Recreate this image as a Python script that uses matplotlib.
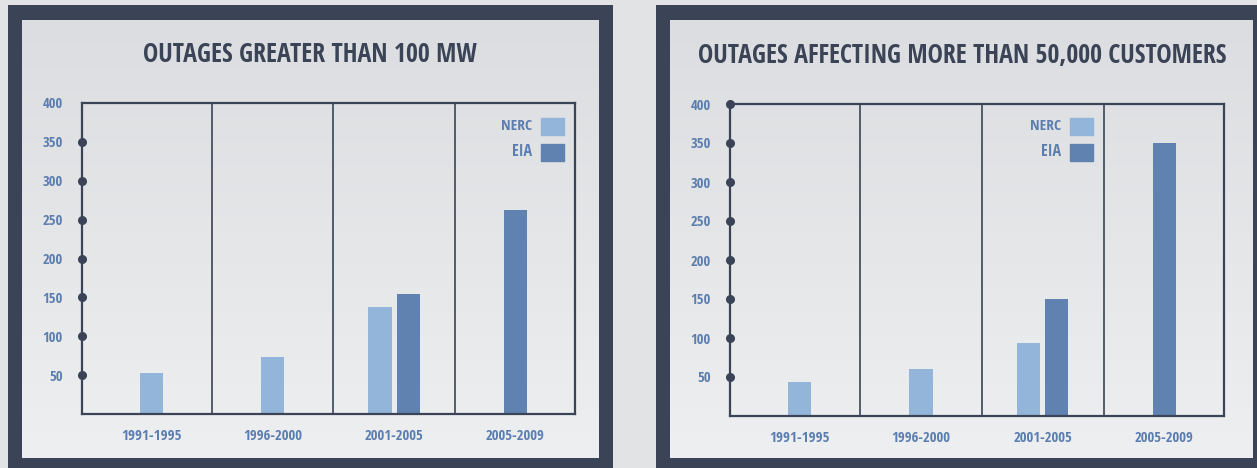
import numpy as np
import matplotlib
matplotlib.use("Agg")
import matplotlib.pyplot as plt
from matplotlib.patches import Rectangle

# ------------------------------------------------------------
# Data
# ------------------------------------------------------------

periods = ["1991-1995", "1996-2000", "2001-2005", "2005-2009"]
ticks_y = [50, 100, 150, 200, 250, 300, 350, 400]

mw_title = "OUTAGES GREATER THAN 100 MW"
mw_nerc = [53, 73, 138, None]
mw_eia = [None, None, 154, 262]

cust_title = "OUTAGES AFFECTING MORE THAN 50,000 CUSTOMERS"
cust_nerc = [43, 60, 93, None]
cust_eia = [None, None, 150, 350]

# ------------------------------------------------------------
# Style
# ------------------------------------------------------------

W, H = 1257, 468
DARK = "#3a4456"
LABEL = "#5b7eb0"
NERC_C = "#93b5da"
EIA_C = "#5f82b0"
FONT = ["Open Sans Condensed", "Fira Sans Extra Condensed", "Roboto Condensed", "DejaVu Sans"]

plt.rcParams['font.family'] = FONT
plt.rcParams['font.weight'] = 'bold'

fig = plt.figure(figsize=(W / 100, H / 100), dpi=100)
fig.patch.set_facecolor("#e2e3e5")
renderer = fig.canvas.get_renderer()


def px_box(x0, y0, x1, y1):
    # image pixel box (top-left origin) -> figure fraction rect
    return [x0 / W, 1 - y1 / H, (x1 - x0) / W, (y1 - y0) / H]


def fit_text(t, max_w, size):
    # shrink a text until it is no wider than max_w pixels
    t.set_fontsize(size)
    w = t.get_window_extent(renderer).width
    if w > max_w:
        t.set_fontsize(size * max_w / w)


def panel(x0, y0, x1, y1):
    frame = fig.add_axes(px_box(x0, y0, x1, y1))
    frame.set_axis_off()
    frame.add_patch(Rectangle((0, 0), 1, 1, color=DARK, transform=frame.transAxes))
    inner = fig.add_axes(px_box(x0 + 14, y0 + 15, x1 - 14, y1 - 10))
    inner.set_axis_off()
    grad = np.linspace(0, 1, 256).reshape(-1, 1)
    cmap = matplotlib.colors.LinearSegmentedColormap.from_list("g", ["#dcdde0", "#eeeff0"])
    inner.imshow(grad, aspect="auto", cmap=cmap, extent=[0, 1, 0, 1], origin="upper")


def chart(box, title, title_xy, title_w, nerc, eia, legend_x, dot_top):
    ax = fig.add_axes(px_box(*box))
    ax.set_facecolor("none")
    ax.set_xlim(-0.57, 3.49)
    ax.set_ylim(0, 400)

    x = np.arange(len(periods))
    bw = 0.19
    off = 0.116
    for i in x:
        both = nerc[i] is not None and eia[i] is not None
        if nerc[i] is not None:
            ax.bar(i - off if both else i, nerc[i], width=bw, color=NERC_C, zorder=2)
        if eia[i] is not None:
            ax.bar(i + off if both else i, eia[i], width=bw, color=EIA_C, zorder=2)

    for xd in [0.5, 1.5, 2.5]:
        ax.axvline(xd, color=DARK, lw=1.2, zorder=3)

    for s in ax.spines.values():
        s.set_color(DARK)
        s.set_linewidth(1.6)

    ax.set_yticks(ticks_y)
    ax.set_yticklabels([str(t) for t in ticks_y])
    ax.set_xticks(x)
    ax.set_xticklabels(periods)
    ax.tick_params(length=0, colors=LABEL)
    ax.tick_params(axis="y", pad=14)
    ax.tick_params(axis="x", pad=11)
    for lab in ax.get_yticklabels():
        lab.set_fontweight("bold")
        fit_text(lab, 21, 10.5)
    for lab in ax.get_xticklabels():
        lab.set_fontweight("bold")
        fit_text(lab, 60, 11.5)

    dots = [t for t in ticks_y if t < 400 or dot_top]
    ax.plot([-0.57] * len(dots), dots, "o", color=DARK, ms=5.5, clip_on=False, zorder=5)

    t = fig.text(title_xy[0] / W, 1 - title_xy[1] / H, title, ha="center", va="center",
                 fontweight="bold", color=DARK)
    fit_text(t, title_w, 19.5)

    # legend boxes
    for j, (name, col) in enumerate([("NERC", NERC_C), ("EIA", EIA_C)]):
        yc = 126 + j * 26
        fig.patches.append(Rectangle((legend_x / W, 1 - (yc + 9) / H), 23 / W, 17 / H,
                                     color=col, transform=fig.transFigure, figure=fig))
        lt = fig.text((legend_x - 9) / W, 1 - yc / H, name, ha="right", va="center",
                      fontweight="bold", color=LABEL)
        fit_text(lt, 31, 11.5)


panel(8, 5, 613, 468)
panel(656, 5, 1257 + 10, 468)

chart((82, 103, 575, 414), mw_title, (310, 55), 336, mw_nerc, mw_eia, 541, False)
chart((730, 104, 1224, 416), cust_title, (962, 55), 534, cust_nerc, cust_eia, 1070, True)

fig.savefig("out.png", dpi=100, facecolor=fig.get_facecolor())
